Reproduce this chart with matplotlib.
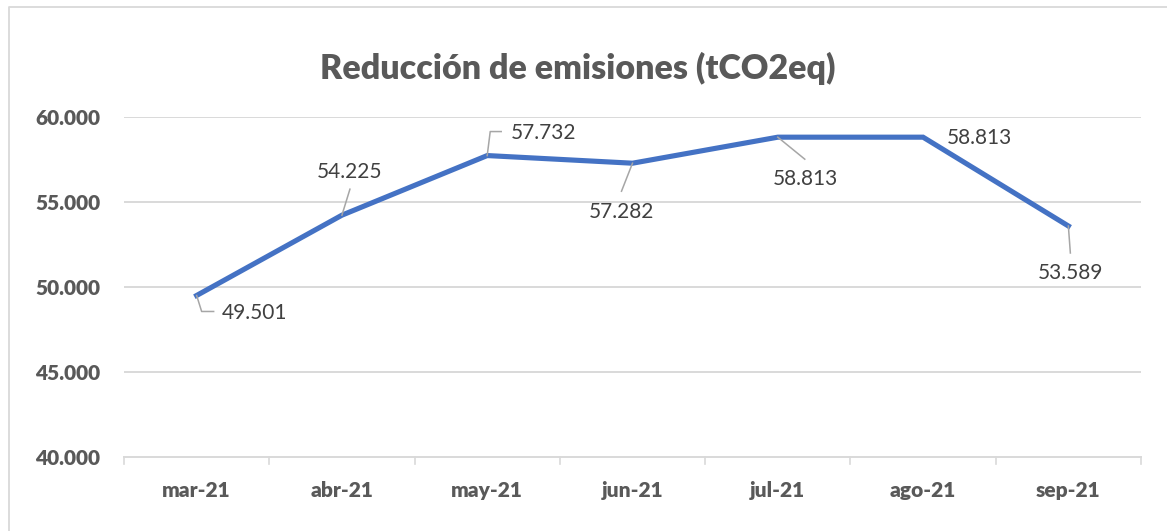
import matplotlib.pyplot as plt
from matplotlib.lines import Line2D

# data
months = ['mar-21', 'abr-21', 'may-21', 'jun-21', 'jul-21', 'ago-21', 'sep-21']
reduction = [49501, 54225, 57732, 57282, 58813, 58813, 53589]
labels = ['49.501', '54.225', '57.732', '57.282', '58.813', '58.813', '53.589']
yticks = [40000, 45000, 50000, 55000, 60000]
ytick_labels = ['40.000', '45.000', '50.000', '55.000', '60.000']

# label offsets in pixels (dx right, dy down) and leader line paths
label_off = [(58, 18), (8, -43), (56, -23), (-11, 49), (28, 42), (56, 1), (2, 47)]
leaders = [
    [(0, 0), (5, 16), (17, 16)],
    [(0, 0), (8, -26)],
    [(0, 0), (3, -24), (14, -24)],
    [(0, 0), (-11, 28)],
    [(0, 0), (27, 22)],
    None,
    [(0, 0), (2, 27)],
]

plt.rcParams['font.family'] = ['Lato', 'DejaVu Sans']

W, H = 1167, 531
fig = plt.figure(figsize=(W / 100, H / 100), dpi=100)
ax = fig.add_axes([124 / W, 1 - 457 / H, (1141 - 124) / W, (457 - 117) / H])

x = list(range(len(months)))
ax.plot(x, reduction, color='#4472C4', lw=3.7, solid_joinstyle='miter', zorder=3)

ax.set_xlim(-0.5, len(months) - 0.5)
ax.set_ylim(40000, 60000)
ax.set_yticks(yticks)
ax.set_yticklabels(ytick_labels, fontsize=15, fontweight='heavy', color='#595959')
ax.set_xticks(x)
ax.set_xticklabels(months, fontsize=15, fontweight='heavy', color='#595959')
ax.tick_params(axis='y', length=0, pad=17)
ax.tick_params(axis='x', length=0, pad=17)
for t in yticks[1:]:
    ax.axhline(t, color='#D9D9D9', lw=1.4, zorder=1)
for s in ['top', 'right', 'left']:
    ax.spines[s].set_visible(False)
ax.spines['bottom'].set_color('#D9D9D9')
ax.spines['bottom'].set_linewidth(1.4)

# category boundary tick marks below the axis
trans = ax.get_xaxis_transform()
for b in [i - 0.5 for i in range(len(months) + 1)]:
    ax.add_line(Line2D([b, b], [0, -7 / 340], transform=trans, color='#D9D9D9',
                       lw=1.2, clip_on=False))

# data labels with leader lines
for i, (v, lab) in enumerate(zip(reduction, labels)):
    px, py = ax.transData.transform((i, v))
    dx, dy = label_off[i]
    tx, ty = fig.transFigure.inverted().transform((px + dx, py - dy))
    fig.text(tx, ty, lab, ha='center', va='center', fontsize=15, color='#404040')
    if leaders[i]:
        pts = [fig.transFigure.inverted().transform((px + a, py - b)) for a, b in leaders[i]]
        fig.add_artist(Line2D([p[0] for p in pts], [p[1] for p in pts],
                              transform=fig.transFigure, color='#A6A6A6', lw=1.1, zorder=4))

fig.text(578 / W, 1 - 68 / H, 'Reducción de emisiones (tCO2eq)', ha='center', va='center',
         fontsize=24.5, fontweight='heavy', color='#595959')

# chart border (top and left visible)
fig.add_artist(Line2D([9 / W, 9 / W, 1], [0, 1 - 7 / H, 1 - 7 / H], transform=fig.transFigure,
                      color='#D9D9D9', lw=1.3))

fig.savefig('out.png', dpi=100)
